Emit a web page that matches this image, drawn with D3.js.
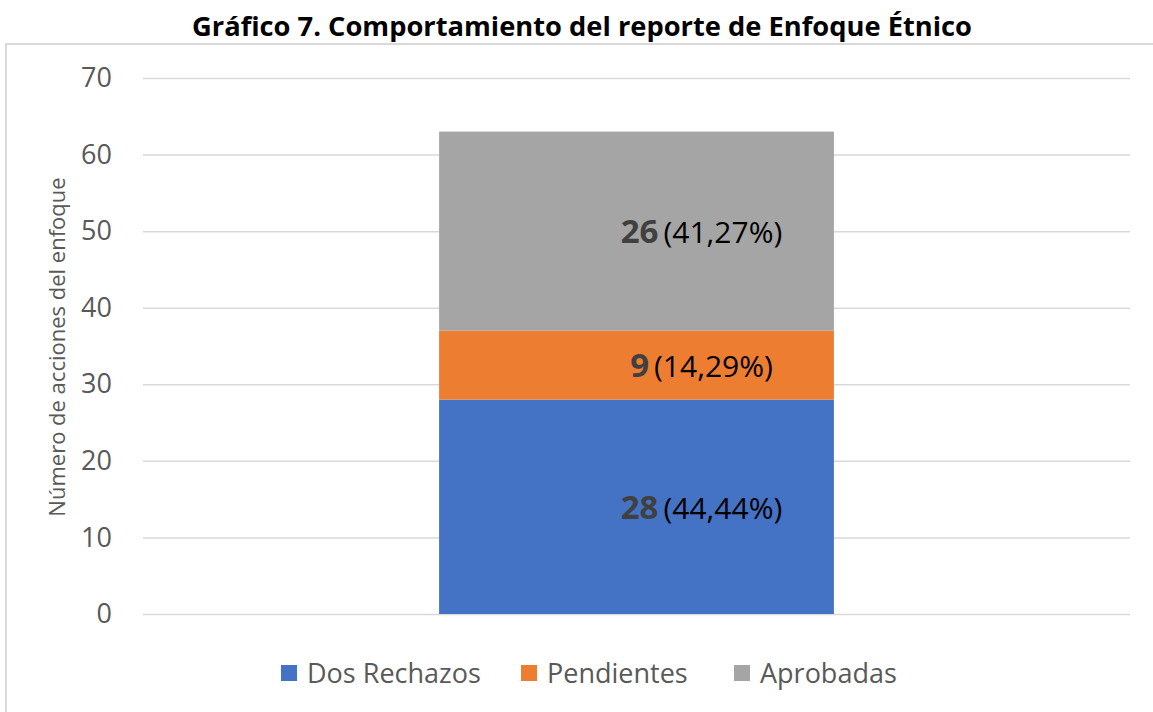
<!DOCTYPE html>
<html>
<head>
<meta charset="utf-8">
<script src="https://cdn.jsdelivr.net/npm/d3@7"></script>
<style>
  body { margin: 0; background: #fff; }
  text { font-family: "Open Sans", "Noto Sans", sans-serif; }
</style>
</head>
<body>
<svg id="chart"></svg>
<script>
const categories = ['Enfoque Étnico'];
const seriesNames = ['Dos Rechazos', 'Pendientes', 'Aprobadas'];
const seriesValues = [28, 9, 26];
const seriesPercents = ['44,44%', '14,29%', '41,27%'];
const colors = ['#4472c4', '#ed7d31', '#a5a5a5'];
const yTicks = [0, 10, 20, 30, 40, 50, 60, 70];

const width = 1153, height = 712;
const margin = { left: 143, right: 23, top: 78, bottom: 98 };

const svg = d3.select('#chart')
  .attr('width', width)
  .attr('height', height);

// chart frame
svg.append('rect')
  .attr('x', 6).attr('y', 44)
  .attr('width', width + 10).attr('height', height)
  .attr('fill', 'none')
  .attr('stroke', '#d9d9d9')
  .attr('stroke-width', 2);

svg.append('text')
  .attr('x', 582).attr('y', 36)
  .attr('text-anchor', 'middle')
  .attr('font-size', 27)
  .attr('font-weight', 700)
  .attr('fill', '#000')
  .attr('textLength', 780)
  .attr('lengthAdjust', 'spacingAndGlyphs')
  .text('Gráfico 7. Comportamiento del reporte de Enfoque Étnico');

const y = d3.scaleLinear()
  .domain([0, 70])
  .range([height - margin.bottom, margin.top]);

const x = d3.scaleBand()
  .domain(categories)
  .range([margin.left, width - margin.right])
  .paddingInner(0.6)
  .paddingOuter(0.3);

// grid + tick labels
const yAxis = d3.axisLeft(y)
  .tickValues(yTicks)
  .tickSize(-(width - margin.left - margin.right))
  .tickPadding(31);

const gy = svg.append('g')
  .attr('transform', `translate(${margin.left},0)`)
  .call(yAxis);
gy.select('.domain').remove();
gy.selectAll('.tick line')
  .attr('stroke', '#d9d9d9')
  .attr('stroke-width', 1.5);
gy.selectAll('.tick text')
  .attr('font-size', 27)
  .attr('fill', '#595959')
  .style('font-family', '"Open Sans", sans-serif');

svg.append('text')
  .attr('transform', `translate(65,${(y(0) + y(70)) / 2 + 1}) rotate(-90)`)
  .attr('text-anchor', 'middle')
  .attr('font-size', 22)
  .attr('fill', '#595959')
  .text('Número de acciones del enfoque');

// stacked segments
const stackData = [Object.fromEntries(seriesNames.map((s, i) => [s, seriesValues[i]]))];
stackData[0].cat = categories[0];
const stacked = d3.stack().keys(seriesNames)(stackData);

svg.append('g')
  .selectAll('rect')
  .data(stacked)
  .join('rect')
    .attr('x', x(categories[0]))
    .attr('width', x.bandwidth())
    .attr('y', d => y(d[0][1]))
    .attr('height', d => y(d[0][0]) - y(d[0][1]))
    .attr('fill', (d, i) => colors[i]);

// labels
const labels = svg.append('g')
  .selectAll('text')
  .data(stacked)
  .join('text')
    .attr('x', x(categories[0]) + x.bandwidth() / 2 + 65)
    .attr('y', d => y((d[0][0] + d[0][1]) / 2) + 12)
    .attr('text-anchor', 'middle');
labels.append('tspan')
  .attr('font-size', 33)
  .attr('font-weight', 700)
  .attr('fill', '#404040')
  .text((d, i) => seriesValues[i]);
labels.append('tspan')
  .attr('dx', 5)
  .attr('font-size', 30)
  .attr('fill', '#000')
  .text((d, i) => '(' + seriesPercents[i] + ')');

// legend
const legendX = [281, 521, 734];
const legend = svg.append('g')
  .selectAll('g')
  .data(seriesNames)
  .join('g')
    .attr('transform', (d, i) => `translate(${legendX[i]},673)`);
legend.append('rect')
  .attr('x', 0).attr('y', -8)
  .attr('width', 16).attr('height', 16)
  .attr('fill', (d, i) => colors[i]);
legend.append('text')
  .attr('x', 26)
  .attr('dy', '0.36em')
  .attr('font-size', 27)
  .attr('fill', '#595959')
  .text(d => d);
</script>
</body>
</html>
